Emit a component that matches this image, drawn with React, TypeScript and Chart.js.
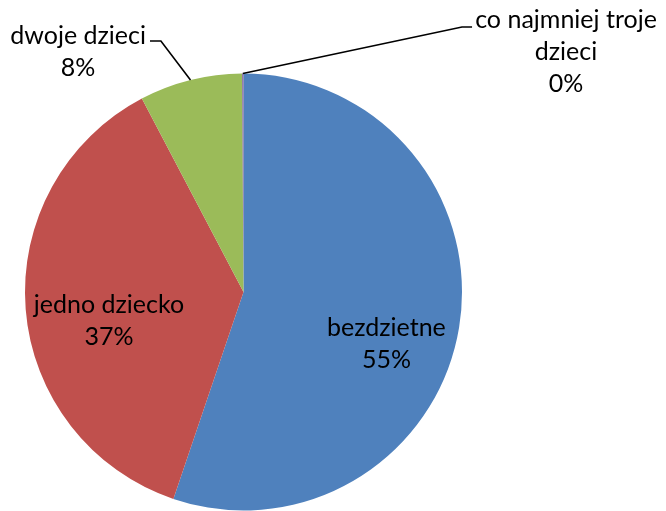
import React, { useEffect, useRef } from "react";
import { Chart, registerables } from "chart.js";

Chart.register(...registerables);

const categories = ["bezdzietne", "jedno dziecko", "dwoje dzieci", "co najmniej troje dzieci"];
const values = [55.2, 37.1, 7.6, 0.1];
const colors = ["#4F81BD", "#C0504D", "#9BBB59", "#8064A2"];
// label text lines (category split as in the picture)
const labelLines = [["bezdzietne"], ["jedno dziecko"], ["dwoje dzieci"], ["co najmniej troje", "dzieci"]];

const FONT = '25px Lato, "Open Sans", sans-serif';
const LINE_H = 32;

const labelPlugin = {
  id: "pieLabels",
  afterDatasetsDraw(chart: any) {
    const ctx = chart.ctx;
    const meta = chart.getDatasetMeta(0);
    const a0 = meta.data[0];
    const cx = a0.x, cy = a0.y, r = a0.outerRadius;
    const total = values.reduce((s, v) => s + v, 0);
    // anchors relative to pie center, in radius units
    const anchors = [
      { x: 0.654, y: 0.275 },
      { x: -0.616, y: 0.169 },
      { x: -0.757, y: -1.062 },
      { x: 1.476, y: -1.062 },
    ];
    ctx.save();
    ctx.font = FONT;
    ctx.fillStyle = "#000";
    ctx.textAlign = "center";
    ctx.textBaseline = "alphabetic";
    categories.forEach((_, i) => {
      const lines = [...labelLines[i], Math.round((values[i] / total) * 100) + "%"];
      const ax = cx + anchors[i].x * r;
      const ay = cy + anchors[i].y * r;
      const n = lines.length;
      lines.forEach((t, k) => {
        const by = ay + (k - (n - 1) / 2) * LINE_H;
        ctx.fillText(t, ax, by);
      });
    });
    // leader lines
    ctx.strokeStyle = "#000";
    ctx.lineWidth = 1.6;
    const leaders = [
      { i: 2, pts: [{ x: -0.378, y: -1.149 }, { x: -0.428, y: -1.149 }] },
      { i: 3, pts: [{ x: 1.0, y: -1.213 }, { x: 1.046, y: -1.213 }] },
    ];
    leaders.forEach((l) => {
      const arc = meta.data[l.i];
      const mid = (arc.startAngle + arc.endAngle) / 2;
      ctx.beginPath();
      ctx.moveTo(cx + Math.cos(mid) * r, cy + Math.sin(mid) * r);
      l.pts.forEach((p) => ctx.lineTo(cx + p.x * r, cy + p.y * r));
      ctx.stroke();
    });
    ctx.restore();
  },
};

export default function App() {
  const ref = useRef<HTMLCanvasElement>(null);
  useEffect(() => {
    if (!ref.current) return;
    const chart = new Chart(ref.current, {
      type: "pie",
      data: {
        labels: categories,
        datasets: [
          {
            data: values,
            backgroundColor: colors,
            borderWidth: 0,
          },
        ],
      },
      options: {
        responsive: false,
        animation: false,
        layout: { padding: { left: 25, right: 204, top: 73.5, bottom: 0.5 } },
        plugins: {
          legend: { display: false },
          tooltip: { enabled: false },
        },
      },
      plugins: [labelPlugin],
    });
    return () => chart.destroy();
  }, []);
  return (
    <div style={{ position: "fixed", left: 0, top: 0, width: 666, height: 511, background: "#fff" }}>
      <canvas ref={ref} width={666} height={511} />
    </div>
  );
}
